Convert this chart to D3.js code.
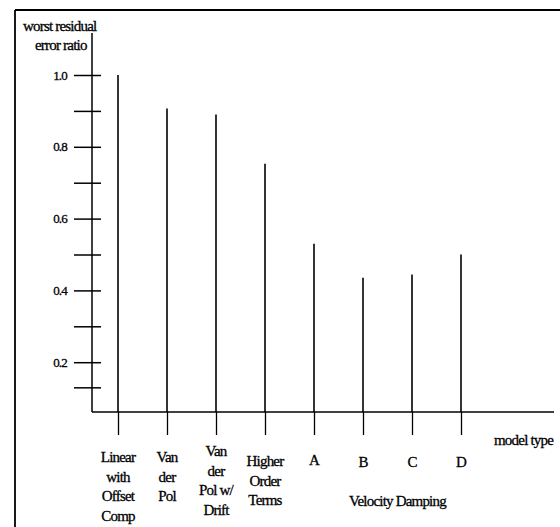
<!DOCTYPE html>
<html><head><meta charset="utf-8">
<script src="https://cdn.jsdelivr.net/npm/d3@7"></script>
<style>
html,body{margin:0;padding:0;background:#fff;}
</style></head>
<body>
<svg id="chart" width="560" height="527"></svg>
<script>
// ---- data ----
const categories = ["Linear with Offset Comp","Van der Pol","Van der Pol w/ Drift","Higher Order Terms","A","B","C","D"];
const categoryLines = [["Linear","with","Offset","Comp"],["Van","der","Pol"],["Van","der","Pol w/","Drift"],["Higher","Order","Terms"],["A"],["B"],["C"],["D"]];
const values = [1.0, 0.907, 0.89, 0.753, 0.53, 0.435, 0.444, 0.50];
const majorTicks = [0.2, 0.4, 0.6, 0.8, 1.0];
const minorTicks = [0.13, 0.3, 0.5, 0.7, 0.9];
const yTitle = ["worst residual","error ratio"];
const xTitle = "model type";
const groupLabel = "Velocity Damping";

const FONT = "'Liberation Serif','Times New Roman','DejaVu Serif',serif";
const svg = d3.select("#chart");
function txt(sel, size){
  return sel.attr("font-family",FONT).style("font-family",FONT).style("font-size",size+"px").style("fill","#000")
    .style("letter-spacing","-0.8px").style("stroke","#000").style("stroke-width","0.3px");
}
// frame
svg.append("line").attr("x1",15).attr("y1",10).attr("x2",15).attr("y2",527).attr("stroke","#000").attr("stroke-width",1.8);
svg.append("line").attr("x1",15).attr("y1",10).attr("x2",560).attr("y2",10).attr("stroke","#000").attr("stroke-width",2);

const y = d3.scaleLinear().domain([0,1]).range([434,75]);
const x = d3.scalePoint().domain(categories).range([118,461]);
const axisX = 92, axisY = 412;

svg.append("line").attr("x1",axisX).attr("x2",axisX).attr("y1",33).attr("y2",axisY).attr("stroke","#000").attr("stroke-width",1.5);
svg.append("line").attr("x1",axisX).attr("x2",554).attr("y1",axisY).attr("y2",axisY).attr("stroke","#000").attr("stroke-width",1.5);

const gyl = svg.append("g").attr("transform",`translate(${axisX},0)`)
  .call(d3.axisLeft(y).tickValues(majorTicks.concat(minorTicks)).tickSize(18).tickPadding(7)
    .tickFormat(d => majorTicks.includes(d) ? d3.format(".1f")(d) : ""));
gyl.attr("font-family",null);
gyl.select(".domain").remove();
gyl.selectAll(".tick line").attr("stroke","#000").attr("stroke-width",1.5);
txt(gyl.selectAll(".tick text"),13);
const gyr = svg.append("g").attr("transform",`translate(${axisX},0)`)
  .call(d3.axisRight(y).tickValues(majorTicks.concat(minorTicks)).tickSize(9).tickFormat(""));
gyr.select(".domain").remove();
gyr.selectAll(".tick line").attr("stroke","#000").attr("stroke-width",1.5);

const gx = svg.append("g").attr("transform",`translate(0,${axisY})`)
  .call(d3.axisBottom(x).tickSize(23).tickFormat(""));
gx.select(".domain").remove();
gx.selectAll(".tick line").attr("stroke","#000").attr("stroke-width",1.3);

svg.append("g").selectAll("line").data(values).join("line")
  .attr("x1",(d,i)=>x(categories[i])).attr("x2",(d,i)=>x(categories[i]))
  .attr("y1",d=>y(d)).attr("y2",axisY)
  .attr("stroke","#000").attr("stroke-width",1.6);

const shift = [0,0,-6,4,3,5,5,5];
const lab = svg.append("g");
categoryLines.forEach((lines,i)=>{
  const t = txt(lab.append("text"),15).attr("text-anchor","middle").attr("x",x(categories[i])).attr("y",462+shift[i]);
  lines.forEach((l,j)=>t.append("tspan").attr("x",x(categories[i])).attr("dy",j===0?0:19.5).text(l));
});

const vd = categories.slice(4).map(c=>x(c));
txt(svg.append("text"),15).attr("x",(vd[0]+vd[vd.length-1])/2 + 10).attr("y",506).attr("text-anchor","middle").text(groupLabel);

txt(svg.append("text"),15).attr("x",23).attr("y",31).text(yTitle[0]);
txt(svg.append("text"),15).attr("x",35).attr("y",50).text(yTitle[1]);
txt(svg.append("text"),15).attr("x",494).attr("y",445).text(xTitle);
</script>
</body></html>
